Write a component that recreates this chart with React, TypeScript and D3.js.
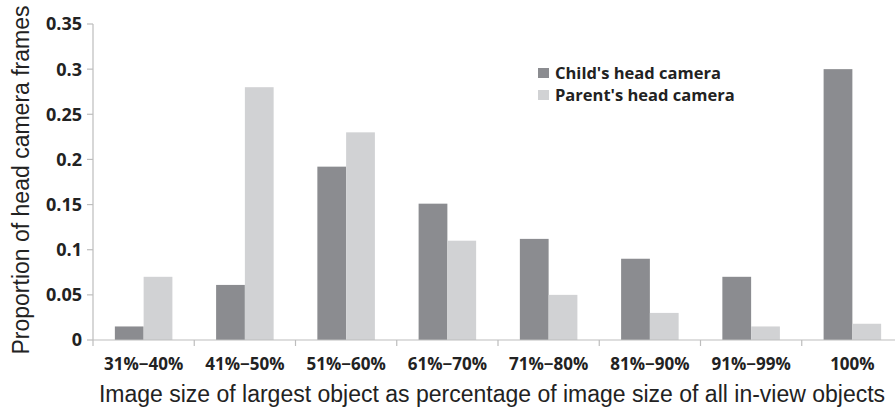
import React from "react";
import * as d3 from "d3";

const W = 895;
const H = 407;

const categories = [
  "31%\u221240%",
  "41%\u221250%",
  "51%\u221260%",
  "61%\u221270%",
  "71%\u221280%",
  "81%\u221290%",
  "91%\u221299%",
  "100%",
];
const seriesNames = ["Child's head camera", "Parent's head camera"];
const childValues = [0.015, 0.061, 0.192, 0.151, 0.112, 0.09, 0.07, 0.3];
const parentValues = [0.07, 0.28, 0.23, 0.11, 0.05, 0.03, 0.015, 0.018];
const yTicks = [0, 0.05, 0.1, 0.15, 0.2, 0.25, 0.3, 0.35];
const yTickLabels = ["0", "0.05", "0.1", "0.15", "0.2", "0.25", "0.3", "0.35"];
const colors = ["#8b8c90", "#d1d2d4"];

const margin = { left: 93, right: -8, top: 24, bottom: 67 };

export default function App() {
  const x0 = d3
    .scaleBand<string>()
    .domain(categories)
    .range([margin.left, W - margin.right])
    .paddingInner(0)
    .paddingOuter(0);
  const x1 = d3
    .scaleBand<string>()
    .domain(seriesNames)
    .range([0, x0.bandwidth()])
    .paddingInner(0)
    .paddingOuter(0.76);
  const y = d3
    .scaleLinear()
    .domain([0, 0.35])
    .range([H - margin.bottom, margin.top]);

  const series = [childValues, parentValues];
  const axisColor = "#bdbdbd";
  const tickFont = "'Open Sans', 'DejaVu Sans', sans-serif";
  const titleFont = "'Liberation Sans', Arial, sans-serif";

  return (
    <svg
      width={W}
      height={H}
      style={{ position: "absolute", left: 0, top: 0, background: "#fff" }}
    >
      {/* bars */}
      {categories.map((c, i) => (
        <g key={c} transform={`translate(${x0(c)},0)`}>
          {seriesNames.map((s, k) => (
            <rect
              key={s}
              x={x1(s)}
              y={y(series[k][i])}
              width={x1.bandwidth()}
              height={y(0) - y(series[k][i])}
              fill={colors[k]}
            />
          ))}
        </g>
      ))}

      {/* y axis */}
      <line
        x1={margin.left}
        x2={margin.left}
        y1={y(0.35)}
        y2={y(0)}
        stroke={axisColor}
        strokeWidth={1.2}
      />
      {yTicks.map((t, i) => (
        <g key={t}>
          <line
            x1={margin.left - 6}
            x2={margin.left}
            y1={y(t)}
            y2={y(t)}
            stroke={axisColor}
            strokeWidth={1.2}
          />
          <text
            x={margin.left - 11}
            y={y(t)}
            dy="0.36em"
            textAnchor="end"
            fontFamily={tickFont}
            fontWeight={700}
            fontSize={18}
            fill="#222"
          >
            {yTickLabels[i]}
          </text>
        </g>
      ))}

      {/* x axis */}
      <line
        x1={margin.left}
        x2={W}
        y1={y(0)}
        y2={y(0)}
        stroke={axisColor}
        strokeWidth={1.2}
      />
      {categories.map((c) => (
        <line
          key={c}
          x1={x0(c)}
          x2={x0(c)}
          y1={y(0)}
          y2={y(0) + 6}
          stroke={axisColor}
          strokeWidth={1.2}
        />
      ))}
      {categories.map((c) => (
        <text
          key={c}
          x={(x0(c) as number) + x0.bandwidth() / 2}
          y={y(0) + 24}
          dy="0.36em"
          textAnchor="middle"
          fontFamily={tickFont}
          fontWeight={700}
          fontSize={17}
          fill="#222"
        >
          {c}
        </text>
      ))}

      {/* axis titles */}
      <text
        x={492}
        y={402}
        textAnchor="middle"
        fontFamily={titleFont}
        fontSize={23}
        fill="#222"
      >
        Image size of largest object as percentage of image size of all in-view objects
      </text>
      <text
        transform={`translate(29,${180}) rotate(-90)`}
        textAnchor="middle"
        fontFamily={titleFont}
        fontSize={23}
        fill="#222"
      >
        Proportion of head camera frames
      </text>

      {/* legend */}
      {seriesNames.map((s, k) => (
        <g key={s} transform={`translate(538,${68 + k * 22})`}>
          <rect width={11} height={10} fill={colors[k]} />
          <text
            x={17}
            y={5}
            dy="0.36em"
            fontFamily={tickFont}
            fontWeight={700}
            fontSize={16.5}
            fill="#222"
          >
            {s}
          </text>
        </g>
      ))}
    </svg>
  );
}
